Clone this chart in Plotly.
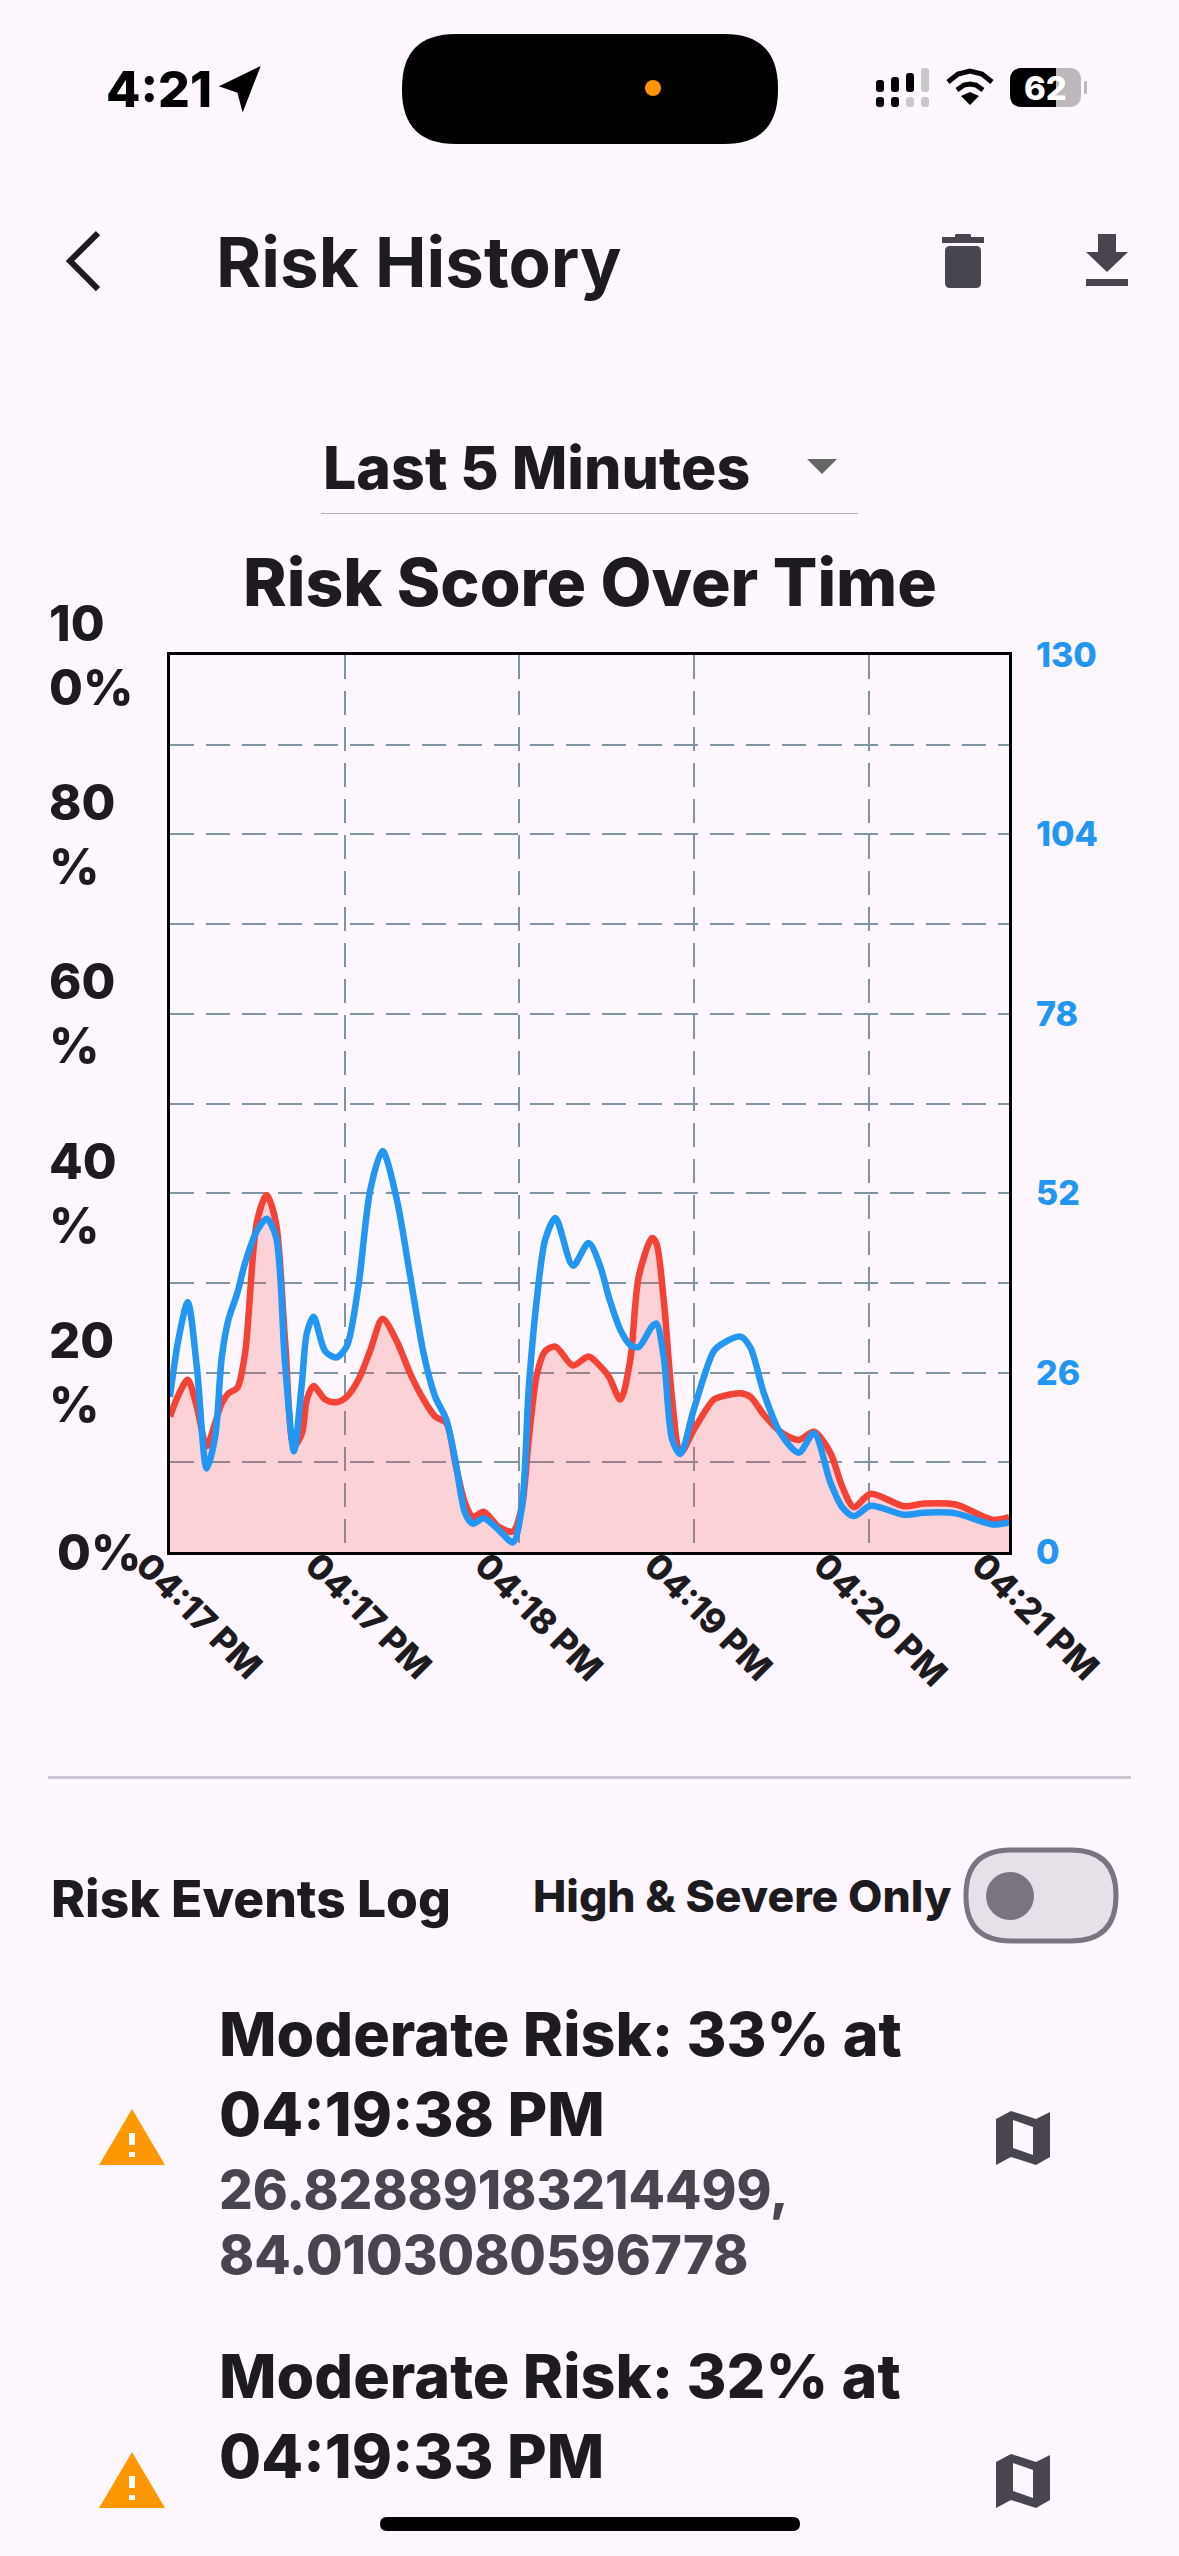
import plotly.graph_objects as go

W = 1179
H = 2556
BG = "#FEF7FF"
INK = "#1D1B20"
GREY = "#49454F"

# seconds since the start of the window
times = [0, 2.9, 6.1, 9.2, 12.6, 15.5, 17.8, 20.1, 23.1, 25.8, 29.8, 33.2, 36.4, 39.5, 42.6, 45.3, 47.0, 49.3,
         53.3, 57.1, 60.7, 64.7, 68.8, 73.0, 77.9, 82.5, 87.1, 91.1, 94.9, 98.0, 101.4, 104.1, 107.7, 112.9,
         117.8, 120.9, 123.2, 126.1, 128.9, 132.4, 138.4, 143.8, 147.8, 150.7, 154.7, 158.1, 161.0, 165.6,
         167.1, 169.6, 172.5, 175.3, 179.9, 186.8, 190.2, 196.0, 199.4, 204.0, 209.7, 216.0, 221.2, 226.9,
         230.9, 234.9, 240.7, 252.1, 259.0, 269.9, 282.5, 288.2]
# risk score, percent
risk = [15.1, 17.5, 19.2, 16.2, 11.8, 14.4, 16.6, 17.7, 18.3, 22.2, 36.7, 39.8, 36.7, 23.7, 11.8, 13.2, 17.0, 18.5,
        17.0, 16.7, 17.3, 19.2, 22.5, 26.0, 23.5, 19.9, 17.0, 15.1, 14.4, 9.9, 5.4, 3.9, 4.5, 2.8,
        2.3, 5.1, 12.5, 19.9, 22.4, 22.9, 20.8, 21.8, 20.7, 19.6, 17.0, 21.4, 30.7, 35.0,
        34.4, 28.1, 17.0, 11.0, 13.6, 17.0, 17.4, 17.7, 17.3, 15.3, 13.4, 12.5, 13.4, 11.0,
        7.3, 5.0, 6.5, 5.1, 5.4, 5.3, 3.6, 3.9]
# second series, right axis units
speed = [22.5, 30.8, 36.2, 26.9, 12.1, 16.7, 28.3, 33.7, 37.5, 41.9, 46.5, 48.3, 45.7, 27.4, 14.6, 24.5, 31.7, 34.1,
         29.1, 28.2, 29.8, 38.5, 52.5, 58.1, 51.1, 40.0, 28.8, 22.5, 19.2, 13.3, 5.6, 4.1, 4.9, 3.2,
         1.4, 6.6, 23.5, 37.0, 45.3, 48.4, 41.5, 44.8, 41.4, 37.0, 32.2, 30.0, 29.7, 32.7,
         33.1, 28.3, 16.3, 14.2, 20.6, 29.1, 30.3, 31.2, 29.6, 23.0, 17.2, 14.4, 17.2, 10.0,
         6.5, 5.2, 6.7, 5.4, 5.7, 5.6, 4.0, 4.3]

# the labels are spaced a little tighter than the vertical grid
time_ticks = [0, 58.2, 116.4, 174.6, 232.8, 287.1]
time_labels = ["04:17 PM", "04:17 PM", "04:18 PM", "04:19 PM", "04:20 PM", "04:21 PM"]
grid_x = [60, 120, 180, 240]
left_ticks = [0, 20, 40, 60, 80, 100]
left_labels = ["0%", "20<br>%", "40<br>%", "60<br>%", "80<br>%", "10<br>0%"]
right_ticks = [0, 26, 52, 78, 104, 130]
grid_y = [0, 10, 20, 30, 40, 50, 60, 70, 80, 90, 100]


def px(x):
    return x / W


def py(y):
    return 1 - y / H


def poly(points, fill, close=True, line=None, width=0):
    d = "M " + " L ".join(f"{px(x):.5f},{py(y):.5f}" for x, y in points)
    if close:
        d += " Z"
    return dict(type="path", xref="paper", yref="paper", path=d, fillcolor=fill if close else "rgba(0,0,0,0)",
                line=dict(color=line or fill, width=width), layer="above")


def rrect(x0, y0, x1, y1, r, fill, line=None, width=0):
    d = (f"M {px(x0 + r):.5f},{py(y0):.5f} L {px(x1 - r):.5f},{py(y0):.5f} "
         f"Q {px(x1):.5f},{py(y0):.5f} {px(x1):.5f},{py(y0 + r):.5f} L {px(x1):.5f},{py(y1 - r):.5f} "
         f"Q {px(x1):.5f},{py(y1):.5f} {px(x1 - r):.5f},{py(y1):.5f} L {px(x0 + r):.5f},{py(y1):.5f} "
         f"Q {px(x0):.5f},{py(y1):.5f} {px(x0):.5f},{py(y1 - r):.5f} L {px(x0):.5f},{py(y0 + r):.5f} "
         f"Q {px(x0):.5f},{py(y0):.5f} {px(x0 + r):.5f},{py(y0):.5f} Z")
    return dict(type="path", xref="paper", yref="paper", path=d, fillcolor=fill,
                line=dict(color=line or fill, width=width), layer="above")


def label(text, x, y, size, color=INK, weight=800, anchor="left"):
    return dict(text=text, x=px(x), y=py(y), xref="paper", yref="paper", xanchor=anchor, yanchor="middle",
                showarrow=False, align="left", font=dict(family="Inter", size=size, color=color, weight=weight))


def warn_icon(top):
    return [poly([(132, top), (165, top + 56), (99, top + 56)], "#FF9800"),
            rrect(129, top + 24, 135, top + 36, 0, "#FFFFFF"),
            rrect(129, top + 43, 135, top + 48, 0, "#FFFFFF")]


def map_icon(top):
    outer = [(996, top + 8), (1011, top), (1036, top + 8), (1050, top + 1), (1050, top + 46),
             (1036, top + 54), (1011, top + 46), (996, top + 54)]
    inner = [(1013, top + 9), (1033, top + 16), (1033, top + 44), (1013, top + 37)]
    return [poly(outer, GREY), poly(inner, BG)]


fig = go.Figure()
fig.add_trace(go.Scatter(x=times, y=risk, mode="lines", fill="tozeroy", fillcolor="rgba(244,67,54,0.2)",
                         line=dict(color="#F44336", width=6.5, shape="spline", smoothing=0.8),
                         hoverinfo="skip", showlegend=False))
fig.add_trace(go.Scatter(x=times, y=speed, yaxis="y2", mode="lines",
                         line=dict(color="#2196F3", width=6.5, shape="spline", smoothing=0.8),
                         hoverinfo="skip", showlegend=False))

shapes = []
# status bar
shapes.append(poly([(224, 86), (257, 70), (243, 106), (239, 91)], "#000000", line="#000000", width=4))
shapes.append(rrect(402, 34, 778, 144, 54, "#000000"))
shapes.append(dict(type="circle", xref="paper", yref="paper", x0=px(645), x1=px(661), y0=py(80), y1=py(96),
                   fillcolor="#FF9500", line=dict(width=0), layer="above"))
for cx, top, top_col, low_col in [(880, 80, "#000", "#000"), (895, 77, "#000", "#000"),
                                  (910, 73, "#000", "#C8C8C8"), (925, 68, "#C8C8C8", "#C8C8C8")]:
    shapes.append(rrect(cx - 4, top, cx + 4, 92, 3, top_col))
    shapes.append(rrect(cx - 4, 97, cx + 4, 107, 3, low_col))
shapes.append(poly([(948, 82), (958, 74), (970, 71), (982, 74), (992, 82)], "", close=False, line="#000", width=5))
shapes.append(poly([(957, 90), (964, 85), (970, 84), (976, 85), (983, 90)], "", close=False, line="#000", width=5))
shapes.append(poly([(970, 105), (961, 96), (970, 92), (979, 96)], "#000"))
shapes.append(rrect(1010, 68, 1081, 107, 12, "#BDB8BC"))
shapes.append(rrect(1010, 68, 1055, 107, 12, "#000000"))
shapes.append(rrect(1045, 68, 1056, 107, 0, "#000000"))
shapes.append(rrect(1084, 81, 1087, 94, 1, "#BDB8BC"))
# app bar
shapes.append(poly([(98, 233), (70, 261), (98, 289)], "", close=False, line=INK, width=6))
shapes.append(rrect(942, 237, 984, 243, 0, GREY))
shapes.append(rrect(955, 234, 971, 238, 1, GREY))
shapes.append(rrect(945, 246, 981, 288, 5, GREY))
shapes.append(poly([(1098, 234), (1116, 234), (1116, 252), (1128, 252), (1107, 272), (1086, 252), (1098, 252)], GREY))
shapes.append(rrect(1086, 279, 1128, 286, 0, GREY))
# dropdown
shapes.append(poly([(807, 459), (837, 459), (822, 474)], "#666666"))
shapes.append(rrect(321, 513, 858, 514, 0, "#B5B1B8"))
# log header
shapes.append(rrect(48, 1776, 1131, 1779, 0, "#CAC4D0"))
shapes.append(rrect(966, 1850, 1116, 1941, 45, "#E6E0E9", line="#79747E", width=5))
shapes.append(dict(type="circle", xref="paper", yref="paper", x0=px(986), x1=px(1034), y0=py(1872), y1=py(1920),
                   fillcolor="#79747E", line=dict(width=0), layer="above"))
# log rows
shapes += warn_icon(2109) + map_icon(2111)
shapes += warn_icon(2452) + map_icon(2454)
shapes.append(rrect(380, 2517, 800, 2531, 7, "#000000"))

annotations = [
    label("4:21", 104, 89, 50, "#000000"),
    label("62", 1045, 88, 33, "#FFFFFF", anchor="center"),
    label("Risk History", 214, 262, 69, INK, 700),
    label("Last 5 Minutes", 321, 467, 59),
    label("Risk Score Over Time", 590, 582, 66, anchor="center"),
    label("Risk Events Log", 49, 1898, 51.5),
    label("High &amp; Severe Only", 531, 1896, 44.5),
    label("Moderate Risk: 33% at", 217, 2034, 61),
    label("04:19:38 PM", 217, 2114, 61),
    label("26.82889183214499,", 217, 2190, 53, GREY),
    label("84.0103080596778", 217, 2255, 53, GREY),
    label("Moderate Risk: 32% at", 217, 2376, 61),
    label("04:19:33 PM", 217, 2456, 61),
]
# left axis labels sit left-aligned, so they are annotations tied to the y scale
for v, t in zip(left_ticks, left_labels):
    annotations.append(dict(text=t, x=px(143 if v == 0 else 47), y=v, xref="paper", yref="y",
                            xanchor="right" if v == 0 else "left", yanchor="middle", showarrow=False, align="left",
                            font=dict(family="Inter", size=49, color=INK, weight=800)))

fig.update_layout(
    width=W, height=H, autosize=False, margin=dict(l=0, r=0, t=0, b=0, pad=0, autoexpand=False),
    paper_bgcolor=BG, plot_bgcolor=BG, showlegend=False,
    shapes=shapes, annotations=annotations,
    xaxis=dict(domain=[px(170), px(1009)], range=[0, 288.2], tickmode="array", tickvals=time_ticks,
               ticktext=time_labels, tickangle=45, showgrid=False, zeroline=False,
               minor=dict(tickmode="array", tickvals=grid_x, showgrid=True, gridcolor="#7F95A6",
                          griddash="24px,12px", gridwidth=1.5, ticks=""),
               showline=True, mirror=True, linecolor="#000000", linewidth=3,
               ticks="", tickfont=dict(family="Inter", size=35, color=INK, weight=800),
               ticklabelshift=-24, ticklabelstandoff=-24),
    yaxis=dict(domain=[py(1552), py(655)], range=[0, 100], tickmode="array", tickvals=grid_y, showticklabels=False,
               showgrid=True, gridcolor="#7F95A6", griddash="24px,12px", gridwidth=1.5, zeroline=False,
               showline=True, mirror=True, linecolor="#000000", linewidth=3, ticks=""),
    yaxis2=dict(overlaying="y", side="right", range=[0, 130], tickmode="array", tickvals=right_ticks,
                showgrid=False, zeroline=False, showline=False, ticks="", ticklabelstandoff=26,
                tickfont=dict(family="Inter", size=34, color="#2196F3", weight=800)),
)

fig.write_html("out.html", config=dict(displayModeBar=False),
               post_script=f"document.body.style.margin='0';document.body.style.background='{BG}';")
